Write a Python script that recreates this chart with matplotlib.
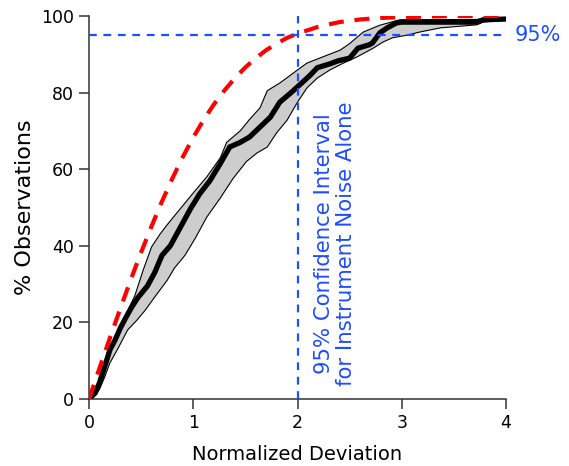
import matplotlib
matplotlib.use("Agg")
import matplotlib.pyplot as plt

# Observed cumulative distribution (black) and its confidence band (gray)
obs_x = [0.0, 0.06, 0.10, 0.15, 0.20, 0.25, 0.30, 0.35, 0.41, 0.47, 0.56, 0.63, 0.70, 0.78,
         0.87, 0.97, 1.06, 1.16, 1.26, 1.35, 1.45, 1.54, 1.64, 1.74, 1.83, 1.93, 2.02,
         2.12, 2.19, 2.31, 2.39, 2.50, 2.58, 2.69, 2.72, 2.79, 2.86, 2.95, 3.00, 3.72,
         3.78, 4.00]
obs_y = [0.0, 1.6, 4.2, 8.4, 12.8, 15.4, 18.5, 21.1, 24.0, 26.5, 29.5, 33.0, 37.5, 40.0,
         44.5, 49.5, 53.5, 57.0, 61.5, 65.8, 67.0, 68.4, 71.0, 73.6, 77.5, 79.8, 82.0,
         84.5, 86.5, 87.5, 88.3, 89.0, 91.6, 92.5, 93.0, 95.6, 96.9, 98.2, 98.4, 98.4,
         99.0, 99.2]

band_x = [0.0, 0.09, 0.15, 0.23, 0.30, 0.37, 0.44, 0.52, 0.60, 0.68, 0.75, 0.87, 1.00,
          1.13, 1.26, 1.32, 1.45, 1.54, 1.64, 1.71, 1.83, 1.96, 2.09, 2.24, 2.41, 2.50,
          2.63, 2.79, 2.98, 3.72, 3.82, 4.00]
band_hi = [0.0, 4.2, 9.4, 14.0, 18.0, 23.0, 27.0, 33.7, 39.7, 43.0, 45.5, 49.5, 53.8,
           58.0, 63.0, 67.0, 70.0, 73.0, 76.0, 80.5, 82.5, 85.1, 87.7, 89.3, 91.1, 92.8,
           95.8, 97.6, 99.0, 99.1, 99.5, 99.5]

low_x = [0.0, 0.03, 0.10, 0.15, 0.20, 0.28, 0.37, 0.46, 0.54, 0.63, 0.75, 0.82, 0.92,
         1.02, 1.13, 1.26, 1.38, 1.51, 1.61, 1.71, 1.80, 1.90, 2.00, 2.09, 2.19,
         2.31, 2.44, 2.57, 2.72, 2.82, 2.91, 3.05, 3.17, 3.37, 3.59, 3.72, 3.78, 4.00]
band_lo = [0.0, 0.3, 2.5, 5.7, 9.4, 13.3, 18.0, 20.6, 23.2, 26.6, 31.0, 34.2, 37.5,
           42.0, 47.5, 52.5, 57.5, 62.0, 64.2, 65.8, 69.5, 72.8, 77.5, 81.2, 83.8,
           85.9, 87.7, 89.3, 91.5, 93.2, 94.3, 95.0, 95.8, 96.9, 97.4, 97.7, 98.4, 99.0]

# Expected distribution for instrument noise alone (red dashed)
noise_x = [0.0, 0.1, 0.2, 0.3, 0.4, 0.5, 0.6, 0.7, 0.8, 0.9, 1.0, 1.1, 1.2, 1.3, 1.4,
           1.5, 1.6, 1.7, 1.8, 1.9, 2.0, 2.2, 2.4, 2.6, 2.8, 3.0, 3.3, 3.6, 4.0]
noise_y = [0.0, 8.0, 15.9, 23.6, 31.1, 38.3, 45.1, 51.6, 57.6, 63.2, 68.3, 72.9, 77.0,
           80.6, 83.8, 86.6, 89.0, 91.1, 92.8, 94.3, 95.4, 97.2, 98.4, 99.1, 99.5, 99.7,
           99.9, 100.0, 100.0]

x_ticks = [0, 1, 2, 3, 4]
y_ticks = [0, 20, 40, 60, 80, 100]
level_pct = 95
level_dev = 2

blue = "#1f4dff"
plt.rcParams['font.family'] = ['DejaVu Sans']

fig = plt.figure(figsize=(5.69, 4.66), dpi=100)
ax = fig.add_axes([89/569, 67/466, 417/569, 383/466])

poly_x = list(band_x) + list(low_x[::-1])
poly_y = list(band_hi) + list(band_lo[::-1])
ax.fill(poly_x, poly_y, facecolor="#cdcdcd", edgecolor="black", linewidth=0.8, zorder=2)

ax.plot(obs_x, obs_y, color="black", linewidth=3.8, solid_joinstyle="miter", zorder=3)
ax.plot(noise_x, noise_y, color="#ff0000", linewidth=3.0, dashes=(3.6, 2.6), zorder=4)

ax.axhline(level_pct, color=blue, linewidth=1.6, dashes=(3.5, 3), zorder=5)
ax.axvline(level_dev, color=blue, linewidth=1.6, dashes=(3.5, 3), zorder=5)

ax.text(4.08, level_pct, "95%", color=blue, fontsize=15, ha="left", va="center",
        clip_on=False)
ax.text(2.25, 40.5, "95% Confidence Interval", color=blue, fontsize=15.3,
        rotation=90, ha="center", va="center")
ax.text(2.47, 40.5, "for Instrument Noise Alone", color=blue, fontsize=15.3,
        rotation=90, ha="center", va="center")

ax.set_xlim(0, 4)
ax.set_ylim(0, 100)
ax.set_xticks(x_ticks)
ax.set_yticks(y_ticks)
for s in ["top", "right"]:
    ax.spines[s].set_visible(False)
for s in ["left", "bottom"]:
    ax.spines[s].set_color("#333333")
    ax.spines[s].set_linewidth(1.1)
ax.tick_params(direction="out", length=7, width=1.1, color="#333333",
               labelsize=12.5, pad=4)
ax.set_xlabel("Normalized Deviation", fontsize=14, labelpad=9)
ax.set_ylabel("% Observations", fontsize=16, labelpad=4)

fig.savefig("out.png", dpi=100)
